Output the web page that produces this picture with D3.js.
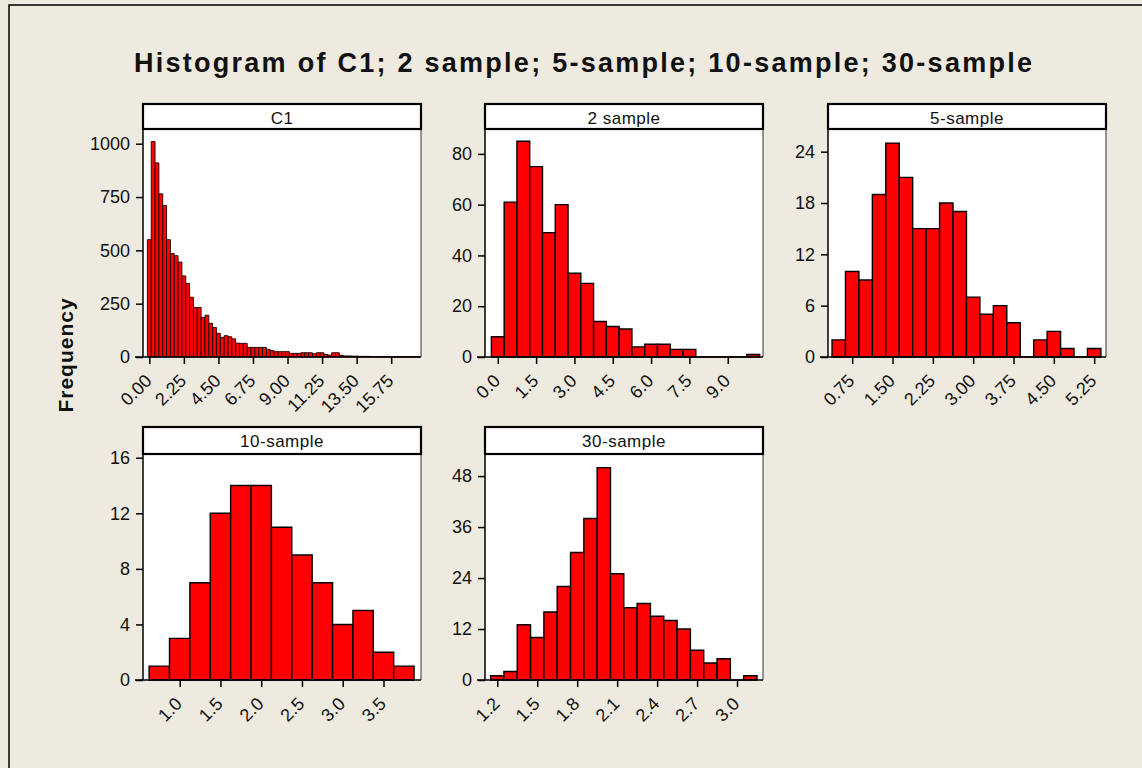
<!DOCTYPE html>
<html>
<head>
<meta charset="utf-8">
<script src="https://cdn.jsdelivr.net/npm/d3@7"></script>
<style>
  html, body { margin: 0; padding: 0; background: #EEEADF; }
  svg { display: block; }
  text { font-family: "Liberation Sans", Arial, sans-serif; fill: #111; }
</style>
</head>
<body>
<svg id="chart" width="1142" height="768"></svg>
<script>
// ---------- DATA ----------
const chartTitle = "Histogram of C1; 2 sample; 5-sample; 10-sample; 30-sample";
const yLabel = "Frequency";

const c1Mids = [0.00,0.25,0.50,0.75,1.00,1.25,1.50,1.75,2.00,2.25,2.50,2.75,3.00,3.25,3.50,3.75,4.00,4.25,4.50,4.75,
  5.00,5.25,5.50,5.75,6.00,6.25,6.50,6.75,7.00,7.25,7.50,7.75,8.00,8.25,8.50,8.75,9.00,9.25,9.50,9.75,
  10.00,10.25,10.50,10.75,11.00,11.25,11.50,11.75,12.00,12.25,12.50,12.75,13.00,13.25,13.50,13.75,14.00,14.25,14.50,14.75,
  15.00,15.25,15.50,15.75,16.00,16.25,16.50,16.75,17.00,17.25,17.50];
const c1Counts = [550,1010,910,765,710,550,485,475,445,380,345,280,232,232,185,196,158,138,111,92,
  100,95,85,65,64,64,45,45,45,45,45,36,30,25,25,25,25,17,17,17,
  20,20,20,15,20,20,12,9,20,20,8,5,5,4,4,3,3,3,2,2,
  2,2,2,1,1,1,1,1,1,1,1];

const s2Mids = [0.0,0.5,1.0,1.5,2.0,2.5,3.0,3.5,4.0,4.5,5.0,5.5,6.0,6.5,7.0,7.5,8.0,8.5,9.0,9.5,10.0];
const s2Counts = [8,61,85,75,49,60,33,29,14,12,11,4,5,5,3,3,0,0,0,0,1];

const s5Mids = [0.50,0.75,1.00,1.25,1.50,1.75,2.00,2.25,2.50,2.75,3.00,3.25,3.50,3.75,4.00,4.25,4.50,4.75,5.00,5.25];
const s5Counts = [2,10,9,19,25,21,15,15,18,17,7,5,6,4,0,2,3,1,0,1];

const s10Mids = [0.75,1.00,1.25,1.50,1.75,2.00,2.25,2.50,2.75,3.00,3.25,3.50,3.75];
const s10Counts = [1,3,7,12,14,14,11,9,7,4,5,2,1];

const s30Mids = [1.2,1.3,1.4,1.5,1.6,1.7,1.8,1.9,2.0,2.1,2.2,2.3,2.4,2.5,2.6,2.7,2.8,2.9,3.0,3.1];
const s30Counts = [1,2,13,10,16,22,30,38,50,25,17,18,15,14,12,7,4,5,0,1];

const panelNames = ["C1", "2 sample", "5-sample", "10-sample", "30-sample"];
const c1XTicks = [0, 2.25, 4.5, 6.75, 9, 11.25, 13.5, 15.75];
const s2XTicks = [0, 1.5, 3, 4.5, 6, 7.5, 9];
const s5XTicks = [0.75, 1.5, 2.25, 3, 3.75, 4.5, 5.25];
const s10XTicks = [1, 1.5, 2, 2.5, 3, 3.5];
const s30XTicks = [1.2, 1.5, 1.8, 2.1, 2.4, 2.7, 3.0];
const c1YTicks = [0, 250, 500, 750, 1000];
const s2YTicks = [0, 20, 40, 60, 80];
const s5YTicks = [0, 6, 12, 18, 24];
const s10YTicks = [0, 4, 8, 12, 16];
const s30YTicks = [0, 12, 24, 36, 48];

// ---------- LAYOUT ----------
const W = 1142, H = 768;
const svg = d3.select("#chart");

const panels = [
  {name: panelNames[0], mids: c1Mids, counts: c1Counts, bw: 0.25, xd: [-0.41, 17.69], yd: [0, 1069], xt: c1XTicks, yt: c1YTicks, fmt: ".2f", x0: 143, row: 0},
  {name: panelNames[1], mids: s2Mids, counts: s2Counts, bw: 0.5, xd: [-0.5, 10.38], yd: [0, 89.8], xt: s2XTicks, yt: s2YTicks, fmt: ".1f", x0: 485, row: 0},
  {name: panelNames[2], mids: s5Mids, counts: s5Counts, bw: 0.25, xd: [0.3, 5.47], yd: [0, 26.65], xt: s5XTicks, yt: s5YTicks, fmt: ".2f", x0: 828, row: 0},
  {name: panelNames[3], mids: s10Mids, counts: s10Counts, bw: 0.25, xd: [0.55, 3.96], yd: [0, 16.27], xt: s10XTicks, yt: s10YTicks, fmt: ".1f", x0: 143, row: 1},
  {name: panelNames[4], mids: s30Mids, counts: s30Counts, bw: 0.1, xd: [1.108, 3.195], yd: [0, 53.2], xt: s30XTicks, yt: s30YTicks, fmt: ".1f", x0: 485, row: 1}
];
const panelW = 278;
const rows = [{hTop: 104, pTop: 129, pBot: 357}, {hTop: 427, pTop: 454, pBot: 680}];

// background + outer frame
svg.append("rect").attr("x", 0).attr("y", 0).attr("width", W).attr("height", H).attr("fill", "#EEEADF");
svg.append("path").attr("d", `M9,${H + 5} V5 H${W + 5}`).attr("fill", "none").attr("stroke", "#000").attr("stroke-width", 1.5);

// title
svg.append("text").attr("x", 583).attr("y", 72).attr("text-anchor", "middle")
  .attr("font-size", 27).attr("font-weight", "bold")
  .attr("textLength", 898).attr("lengthAdjust", "spacing")
  .text(chartTitle);

// y label
svg.append("text").attr("transform", "translate(73,355) rotate(-90)").attr("text-anchor", "middle")
  .attr("font-size", 21).attr("font-weight", "bold").attr("letter-spacing", 1)
  .text(yLabel);

panels.forEach(p => {
  const r = rows[p.row];
  const x = d3.scaleLinear().domain(p.xd).range([p.x0, p.x0 + panelW]);
  const y = d3.scaleLinear().domain(p.yd).range([r.pBot, r.pTop]);
  const g = svg.append("g");

  // plot background
  g.append("rect").attr("x", p.x0).attr("y", r.pTop).attr("width", panelW).attr("height", r.pBot - r.pTop)
    .attr("fill", "#fff");
  // right frame
  g.append("line").attr("x1", p.x0 + panelW).attr("x2", p.x0 + panelW).attr("y1", r.pTop).attr("y2", r.pBot)
    .attr("stroke", "#333").attr("stroke-width", 1);

  // bars
  const bars = p.mids.map((m, i) => ({m, c: p.counts[i]}));
  g.selectAll("path.bar").data(bars).enter().append("path").attr("class", "bar")
    .attr("d", d => {
      const xa = x(d.m - p.bw / 2), xb = x(d.m + p.bw / 2), y0 = y(0), y1 = y(d.c);
      return `M${xa},${y0} V${y1} H${xb} V${y0} Z`;
    })
    .attr("fill", "#FF0000")
    .attr("stroke", p.name === "C1" ? "#1a0000" : "#000")
    .attr("stroke-width", p.name === "C1" ? 0.9 : 1.4);

  // y axis
  const ya = d3.axisLeft(y).tickValues(p.yt).tickSize(7).tickPadding(6).tickFormat(d3.format("d"));
  const yg = g.append("g").attr("transform", `translate(${p.x0},0)`).call(ya);
  yg.select(".domain").attr("stroke", "#000").attr("stroke-width", 1.5).attr("d", `M0,${r.pTop}V${r.pBot}`);
  yg.selectAll(".tick line").attr("stroke", "#000").attr("stroke-width", 1.5);
  yg.selectAll(".tick text").attr("font-size", 18).attr("font-family", "Liberation Sans, Arial, sans-serif").attr("fill", "#111");

  // x axis
  const xa = d3.axisBottom(x).tickValues(p.xt).tickSize(7).tickFormat(d3.format(p.fmt));
  const xg = g.append("g").attr("transform", `translate(0,${r.pBot})`).call(xa);
  xg.select(".domain").attr("stroke", "#000").attr("stroke-width", 1.5).attr("d", `M${p.x0 - 8},0H${p.x0 + panelW}`);
  xg.selectAll(".tick line").attr("stroke", "#000").attr("stroke-width", 1.5);
  xg.selectAll(".tick text")
    .attr("font-size", 18).attr("font-family", "Liberation Sans, Arial, sans-serif").attr("fill", "#111")
    .attr("text-anchor", "end").attr("y", 0).attr("dy", 0)
    .attr("transform", "translate(3,25) rotate(-45)");

  // header strip
  g.append("rect").attr("x", p.x0).attr("y", r.hTop).attr("width", panelW).attr("height", r.pTop - r.hTop)
    .attr("fill", "#fff").attr("stroke", "#000").attr("stroke-width", 2.2);
  g.append("text").attr("x", p.x0 + panelW / 2).attr("y", r.hTop + 20).attr("text-anchor", "middle")
    .attr("font-size", 17).attr("letter-spacing", 0.5).text(p.name);
});
</script>
</body>
</html>
